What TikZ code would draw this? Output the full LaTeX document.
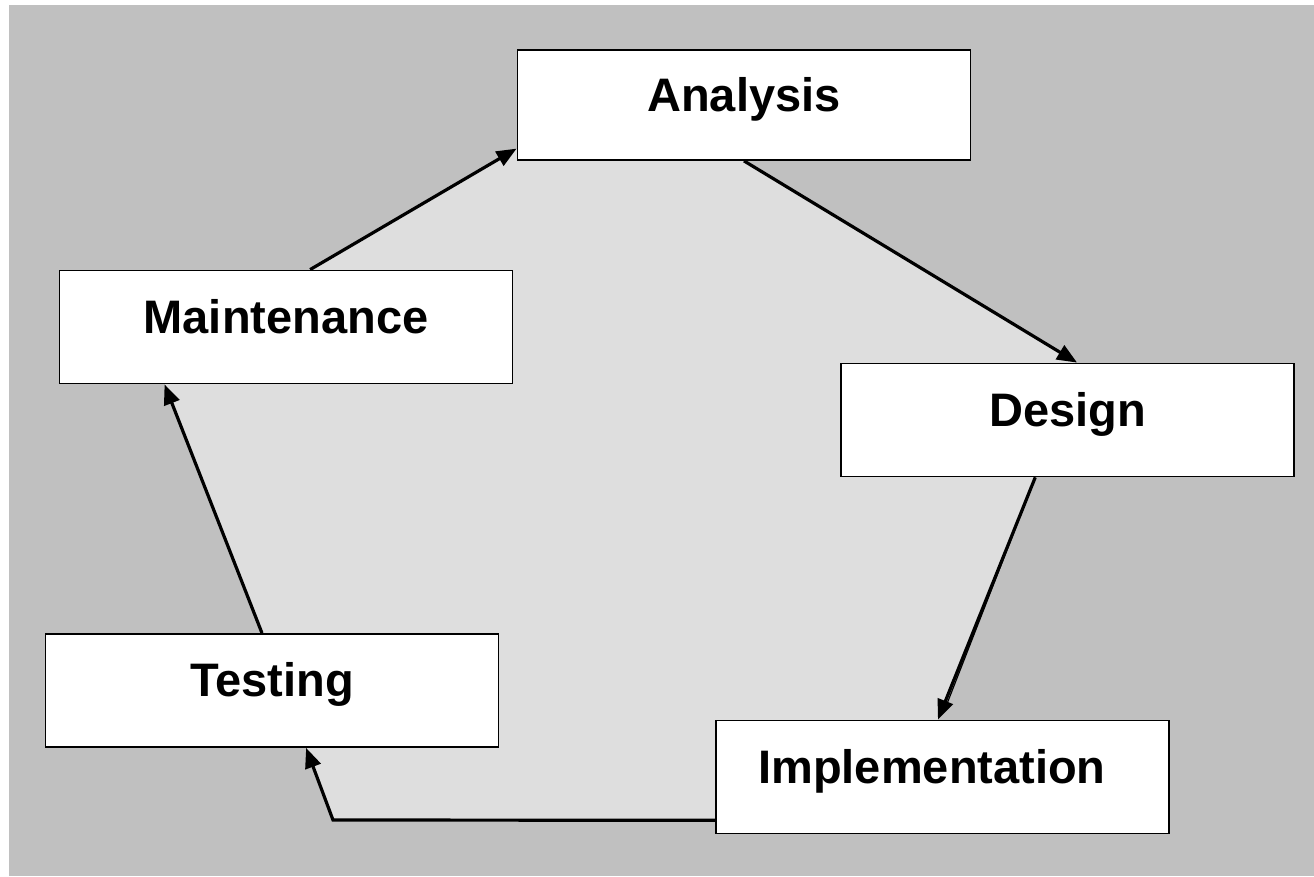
\documentclass[tikz,border=0pt]{standalone}
\usepackage{fontspec}
\setmainfont{Liberation Sans}
\usetikzlibrary{calc,arrows.meta,backgrounds}
\definecolor{bggray}{HTML}{C0C0C0}
\definecolor{innergray}{HTML}{DEDEDE}
\begin{document}
\begin{tikzpicture}[x=1pt,y=-1pt,
  box/.style={draw=black,line width=1.8pt,fill=white,inner sep=0pt,
    font=\fontsize{47}{56}\selectfont\bfseries,
    text height=34pt,text depth=22pt,
    minimum width=453pt,minimum height=113pt},
  arr/.style={line width=3.2pt,-{Triangle[length=20pt,width=16pt]}}]
\useasboundingbox (0,0) rectangle (1314,876);
% boxes
\node[box,minimum height=110pt] (ana) at (744,105) {Analysis};
\node[box] (mai) at (286,327) {Maintenance};
\node[box] (des) at (1067.5,420) {Design};
\node[box] (tes) at (272,690.5) {Testing};
\node[box] (imp) at (942.5,777) {Implementation\hspace*{21pt}};
% connector end points
\coordinate (mt) at ($(mai.north west)!0.553!(mai.north east)$);
\coordinate (al) at ($(ana.north west)!0.89!(ana.south west)$);
\coordinate (ab) at (ana.south);
\coordinate (dt) at ($(des.north west)!0.521!(des.north east)$);
\coordinate (db) at ($(des.south west)!0.429!(des.south east)$);
\coordinate (it) at ($(imp.north west)!0.49!(imp.north east)$);
\coordinate (il) at ($(imp.north west)!0.877!(imp.south west)$);
\coordinate (corner) at (333,820);
\coordinate (tb) at ($(tes.south west)!0.575!(tes.south east)$);
\coordinate (tt) at ($(tes.north west)!0.478!(tes.north east)$);
\coordinate (mb) at ($(mai.south west)!0.233!(mai.south east)$);
\begin{scope}[on background layer]
  \fill[white] (0,0) rectangle (1314,876);
  \fill[bggray] (9,5) rectangle (1314,876);
  \fill[innergray] (mt) -- (al) -- (ab) -- (dt) -- (db) -- (it) -- (il)
    -- (corner) -- (tb) -- (tt) -- (mb) -- cycle;
\end{scope}
% connectors
\draw[arr] (mt) -- (al);
\draw[arr] (ab) -- (dt);
\draw[line width=1.2pt] (db) -- ($(it)+(6,-8)$);
\draw[arr] (db) -- (it);
\draw[arr] (il) -- (corner) -- (tb);
\draw[arr] (tt) -- (mb);
\end{tikzpicture}
\end{document}
